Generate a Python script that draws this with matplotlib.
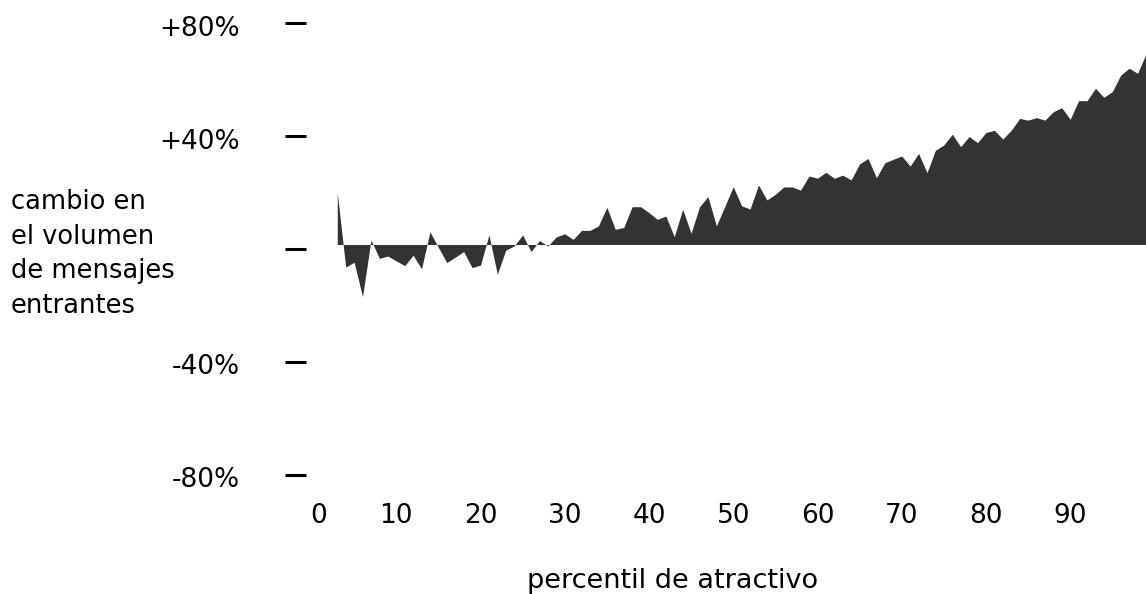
import numpy as np
import matplotlib
matplotlib.use("Agg")
import matplotlib.pyplot as plt
from matplotlib.transforms import ScaledTranslation

# Attractiveness percentile and change in incoming message volume (%)
percentile = list(range(3, 100))
change = [
    18.4, -8.0, -6.3, -18.5, 1.6, -4.9, -4.1, -5.8, -7.5, -3.8,      # 3-12
    -8.6, 4.5, -1.0, -6.4, -4.5, -2.5, -8.2, -7.3, 3.4, -10.5,       # 13-22
    -2.0, -0.5, 3.4, -2.5, 1.4, -0.5, 2.7, 3.8, 1.8, 5.0,            # 23-32
    5.0, 6.6, 13.2, 5.4, 6.0, 13.4, 13.4, 11.3, 8.9, 10.1,           # 33-42
    2.8, 12.5, 4.0, 13.4, 17.0, 6.6, 13.5, 20.5, 13.7, 12.6,         # 43-52
    21.1, 15.8, 17.8, 20.4, 20.4, 19.3, 24.3, 23.5, 25.6, 23.5,      # 53-62
    24.6, 22.9, 28.6, 30.5, 23.7, 29.0, 30.2, 31.4, 27.8, 32.3,      # 63-72
    25.5, 33.4, 35.3, 39.1, 34.7, 38.3, 36.1, 39.7, 40.5, 37.4,      # 73-82
    40.5, 44.7, 44.1, 45.0, 44.1, 47.1, 48.5, 44.4, 51.0, 51.0,      # 83-92
    55.4, 52.2, 54.2, 60.1, 62.5, 60.7, 67.6,                        # 93-99
]

x_ticks = list(range(0, 100, 10))
y_ticks = [-80, -40, 0, 40, 80]
y_tick_labels = ["-80%", "-40%", "", "+40%", "+80%"]

W, H = 1146, 594
fig = plt.figure(figsize=(W / 100, H / 100), dpi=100)
ax = fig.add_axes([312 / W, 1 - 470.1 / H, (W - 312) / W, 451.2 / H])

ax.fill_between(percentile, 0, change, color="#333333", linewidth=0)

ax.set_xlim(0, 99)
ax.set_ylim(-80, 80)

for side in ["top", "right", "bottom", "left"]:
    ax.spines[side].set_visible(False)
ax.spines["left"].set_position(("outward", 4.3))

ax.set_yticks(y_ticks)
ax.set_yticklabels(y_tick_labels)
ax.tick_params(axis="y", direction="out", length=15.1, width=2.2,
               pad=32.4, labelsize=19, color="black", labelcolor="black")

# the dash marks and their labels sit slightly below the gridline values
mark_shift = ScaledTranslation(0, -4.5 / 100, fig.dpi_scale_trans)
label_shift = ScaledTranslation(0, -7 / 100, fig.dpi_scale_trans)
for tick in ax.yaxis.get_major_ticks():
    tick.tick1line.set_transform(tick.tick1line.get_transform() + mark_shift)
    tick.label1.set_transform(tick.label1.get_transform() + label_shift)

ax.set_xticks(x_ticks)
ax.set_xticklabels([str(t) for t in x_ticks])
ax.tick_params(axis="x", length=0, pad=24, labelsize=19, labelcolor="black")
first = ax.get_xticklabels()[0]
first.set_transform(first.get_transform() + ScaledTranslation(7 / 100, 0, fig.dpi_scale_trans))

fig.text(11 / W, 1 - 254 / H, "cambio en\nel volumen\nde mensajes\nentrantes",
         ha="left", va="center", fontsize=18.5, linespacing=1.42, color="black")
fig.text(673 / W, 1 - 581 / H, "percentil de atractivo",
         ha="center", va="center", fontsize=19.5, color="black")

fig.savefig("out.png", dpi=100, facecolor="white")
